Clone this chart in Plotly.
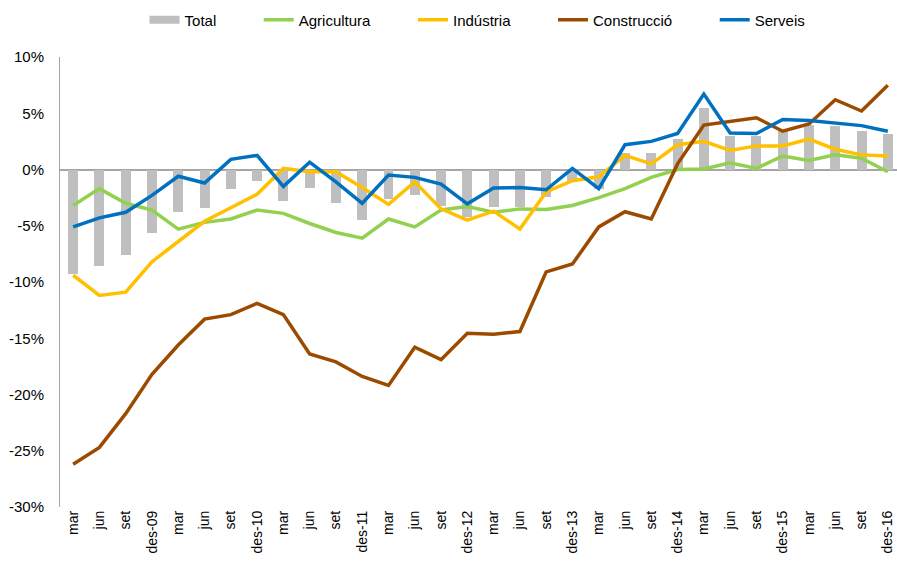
import plotly.graph_objects as go

labels = ["mar", "jun", "set", "des-09", "mar", "jun", "set", "des-10",
          "mar", "jun", "set", "des-11", "mar", "jun", "set", "des-12",
          "mar", "jun", "set", "des-13", "mar", "jun", "set", "des-14",
          "mar", "jun", "set", "des-15", "mar", "jun", "set", "des-16"]

total = [-9.3, -8.6, -7.6, -5.6, -3.8, -3.4, -1.7, -1.0, -2.8, -1.6, -3.0, -4.5,
         -2.6, -2.3, -3.2, -4.2, -3.3, -3.3, -2.4, -1.0, -1.7, 1.45, 1.5, 2.7,
         5.5, 3.0, 3.0, 3.4, 4.0, 3.85, 3.4, 3.2]
agricultura = [-3.2, -1.7, -3.0, -3.6, -5.3, -4.7, -4.4, -3.6, -3.9, -4.8, -5.6, -6.1,
               -4.4, -5.1, -3.6, -3.3, -3.8, -3.5, -3.55, -3.2, -2.5, -1.7, -0.7, 0.0,
               0.05, 0.6, 0.1, 1.2, 0.8, 1.3, 1.0, -0.2]
industria = [-9.4, -11.2, -10.9, -8.2, -6.4, -4.6, -3.4, -2.2, 0.1, -0.2, -0.2, -1.6,
             -3.1, -1.1, -3.5, -4.5, -3.7, -5.3, -2.0, -1.0, -0.65, 1.25, 0.5, 2.2,
             2.5, 1.7, 2.1, 2.1, 2.7, 1.8, 1.3, 1.2]
construccio = [-26.2, -24.7, -21.7, -18.2, -15.6, -13.3, -12.9, -11.9, -12.9, -16.4, -17.1, -18.4,
               -19.2, -15.8, -16.9, -14.55, -14.65, -14.4, -9.1, -8.4, -5.1, -3.75, -4.4, 0.5,
               3.95, 4.3, 4.6, 3.4, 4.05, 6.2, 5.2, 7.5]
serveis = [-5.1, -4.3, -3.8, -2.3, -0.6, -1.2, 0.9, 1.25, -1.5, 0.65, -1.1, -3.0,
           -0.5, -0.7, -1.3, -3.05, -1.65, -1.6, -1.8, 0.1, -1.7, 2.2, 2.5, 3.2,
           6.7, 3.25, 3.2, 4.45, 4.35, 4.15, 3.9, 3.4]

y_tick_vals = [10, 5, 0, -5, -10, -15, -20, -25, -30]
y_tick_text = ["10%", "5%", "0%", "-5%", "-10%", "-15%", "-20%", "-25%", "-30%"]

x = list(range(len(labels)))
pad = "\u00a0" * 9

fig = go.Figure()
fig.add_trace(go.Bar(x=x, y=total, name="Total", marker_color="#BFBFBF",
                     marker_line_width=0, width=0.38, showlegend=False,
                     legendgroup="total"))
# legend entry for Total drawn as a wide grey key, like the original
fig.add_trace(go.Scatter(x=[None], y=[None], name="Total" + pad, mode="lines",
                         line=dict(color="#BFBFBF", width=8), legendgroup="total",
                         hoverinfo="skip"))
line_series = [
    ("Agricultura", agricultura, "#92D050"),
    ("Indústria", industria, "#FFC000"),
    ("Construcció", construccio, "#9C4A00"),
    ("Serveis", serveis, "#0070C0"),
]
for name, vals, col in line_series:
    fig.add_trace(go.Scatter(x=x, y=vals, name=name + pad, mode="lines",
                             line=dict(color=col, width=3.5)))

fig.update_layout(
    width=897, height=562,
    margin=dict(l=60, r=0, t=57, b=55),
    paper_bgcolor="white", plot_bgcolor="white",
    font=dict(family="Liberation Sans, Arial, sans-serif", size=15, color="#000000"),
    showlegend=True,
    legend=dict(orientation="h", x=0.101, xanchor="left", y=1.082, yanchor="middle",
                font=dict(size=15), bgcolor="rgba(0,0,0,0)", traceorder="normal"),
    bargap=0,
)
fig.update_xaxes(
    tickmode="array", tickvals=x, ticktext=labels, tickangle=-90,
    range=[-0.5, 31.35], showgrid=False, zeroline=False, showline=False,
    ticks="", tickfont=dict(size=14), automargin=False, ticklabeloverflow="allow",
)
fig.update_yaxes(
    range=[-30, 10], tickmode="array", tickvals=y_tick_vals, ticktext=y_tick_text,
    showgrid=False, zeroline=True, zerolinecolor="#A6A6A6", zerolinewidth=2,
    showline=True, linecolor="#A6A6A6", linewidth=1, ticks="",
    ticklabelstandoff=12, tickfont=dict(size=15), automargin=False,
)

fig.write_html(
    "out.html",
    config={"displayModeBar": False},
    post_script="document.body.style.margin='0';document.body.style.overflow='hidden';",
)
